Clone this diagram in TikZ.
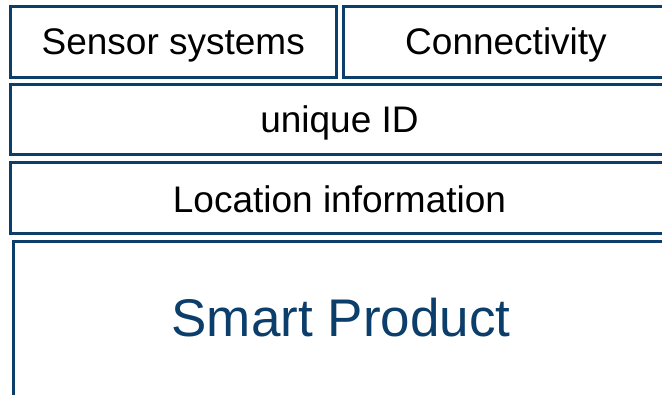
\documentclass[tikz,border=0pt]{standalone}
\usepackage{fontspec}
\setmainfont{Liberation Sans}
\definecolor{boxblue}{RGB}{12,62,108}
\begin{document}
\begin{tikzpicture}[x=1pt,y=-1pt,
  box/.style={draw=boxblue,line width=3pt,fill=white,inner sep=0pt,outer sep=0pt,
    font=\fontsize{37}{40}\selectfont,text=black,text depth=0pt}]
\useasboundingbox (0,0) rectangle (662,395);
\clip (0,0) rectangle (662,395);
\node[box,minimum width=325.5pt,minimum height=71pt,text height=26pt] (sensor) at (173.25,42) {Sensor systems};
\node[box,minimum width=325pt,minimum height=71pt,text height=26pt] (conn) at (506,42) {Connectivity};
\node[box,minimum width=658pt,minimum height=70.5pt,text height=26.5pt] (uid) at (339.5,119.75) {unique ID};
\node[box,minimum width=658pt,minimum height=70.5pt,text height=29.5pt] (loc) at (339.5,198.25) {Location information};
\node[box,minimum width=656pt,minimum height=156pt,text height=34.4pt,font=\fontsize{53}{56}\selectfont,text=boxblue] (smart) at (341,319.5) {Smart Product};
\end{tikzpicture}
\end{document}
